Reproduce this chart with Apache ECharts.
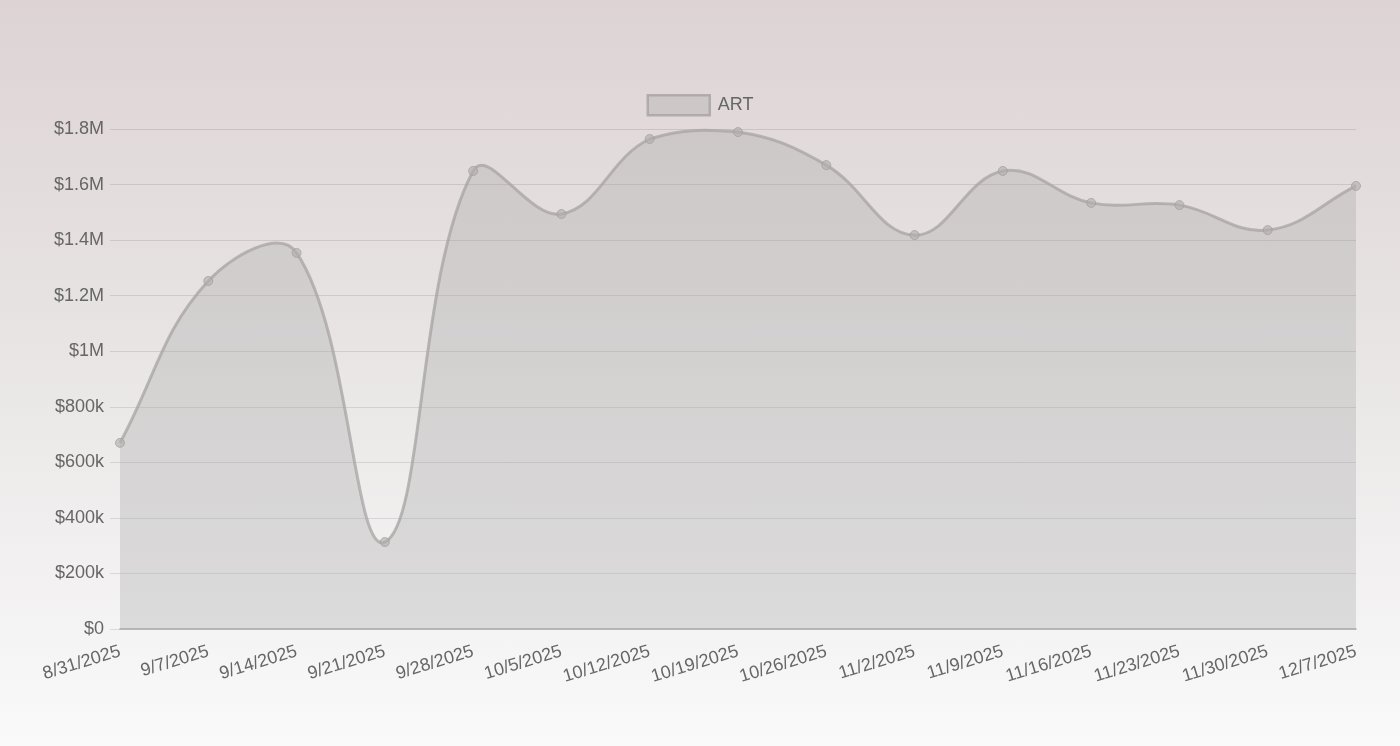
<!DOCTYPE html>
<html>
<head>
<meta charset="utf-8">
<script src="https://cdn.jsdelivr.net/npm/echarts@6/dist/echarts.min.js"></script>
<style>
  html, body { margin: 0; padding: 0; }
  body { width: 1400px; height: 746px; background: linear-gradient(to bottom, #ddd3d4 0%, #e8e4e4 45%, #fafafa 100%); }
  #chart { width: 1400px; height: 746px; }
</style>
</head>
<body>
<div id="chart"></div>
<script>
const categories = ['8/31/2025','9/7/2025','9/14/2025','9/21/2025','9/28/2025','10/5/2025','10/12/2025','10/19/2025','10/26/2025','11/2/2025','11/9/2025','11/16/2025','11/23/2025','11/30/2025','12/7/2025'];
const seriesName = 'ART';
const artValues = [670000, 1253000, 1354000, 313000, 1649000, 1494000, 1764000, 1789000, 1670000, 1418000, 1649000, 1534000, 1526000, 1436000, 1595000];
const yMin = 0, yMax = 1800000, yStep = 200000;

const fillColor = 'rgba(158,158,158,0.29)';
const lineColor = 'rgba(168,163,163,0.75)';

function money(v) {
  if (v === 0) return '$0';
  if (v >= 1000000) return '$' + (v / 1000000).toString() + 'M';
  return '$' + (v / 1000).toString() + 'k';
}

// Cubic spline like a tension-0.4 curve, computed from coordinates given by the axes
function renderCurve(params, api) {
  if (params.dataIndex !== 0) return null;
  const pts = artValues.map(function (v, i) { return api.coord([i, v]); });
  const cs = params.coordSys;
  const t = 0.4;
  const cl = function (x, lo, hi) { return Math.max(lo, Math.min(hi, x)); };
  const cps = pts.map(function (p, i) {
    const prev = i > 0 ? pts[i - 1] : p;
    const next = i < pts.length - 1 ? pts[i + 1] : p;
    const d01 = Math.hypot(p[0] - prev[0], p[1] - prev[1]);
    const d12 = Math.hypot(next[0] - p[0], next[1] - p[1]);
    let s01 = d01 / (d01 + d12), s12 = d12 / (d01 + d12);
    if (isNaN(s01)) s01 = 0;
    if (isNaN(s12)) s12 = 0;
    const fa = t * s01, fb = t * s12;
    return {
      prev: [cl(p[0] - fa * (next[0] - prev[0]), cs.x, cs.x + cs.width), cl(p[1] - fa * (next[1] - prev[1]), cs.y, cs.y + cs.height)],
      next: [cl(p[0] + fb * (next[0] - prev[0]), cs.x, cs.x + cs.width), cl(p[1] + fb * (next[1] - prev[1]), cs.y, cs.y + cs.height)]
    };
  });
  let d = 'M' + pts[0][0] + ' ' + pts[0][1];
  for (let i = 1; i < pts.length; i++) {
    d += ' C' + cps[i - 1].next[0] + ' ' + cps[i - 1].next[1] + ' ' + cps[i].prev[0] + ' ' + cps[i].prev[1] + ' ' + pts[i][0] + ' ' + pts[i][1];
  }
  const base = api.coord([0, yMin])[1];
  const area = d + ' L' + pts[pts.length - 1][0] + ' ' + base + ' L' + pts[0][0] + ' ' + base + ' Z';
  return {
    type: 'group',
    children: [
      { type: 'path', shape: { pathData: area }, style: { fill: fillColor, stroke: null } },
      { type: 'path', shape: { pathData: d }, style: { fill: null, stroke: lineColor, lineWidth: 3 } }
    ]
  };
}

const chart = echarts.init(document.getElementById('chart'), null, { renderer: 'canvas' });
const fontFamily = '"Liberation Sans", Arial, Helvetica, sans-serif';
chart.setOption({
  backgroundColor: 'transparent',
  animation: false,
  textStyle: { fontFamily: fontFamily },
  legend: {
    top: 89,
    left: 'center',
    itemWidth: 62,
    itemHeight: 20,
    icon: 'rect',
    textStyle: { color: '#666', fontSize: 18, fontFamily: fontFamily, padding: [0, 0, 0, 3] },
    data: [{ name: seriesName, itemStyle: { color: fillColor, borderColor: 'rgba(168,163,163,0.8)', borderWidth: 2.5 } }]
  },
  grid: { left: 120, right: 44, top: 129, bottom: 117, containLabel: false },
  xAxis: {
    type: 'category',
    data: categories,
    boundaryGap: false,
    axisLine: { show: true, lineStyle: { color: '#aaa', width: 1.5 } },
    axisTick: { show: false },
    splitLine: { show: false },
    axisLabel: { rotate: 17, color: '#666', fontSize: 18, margin: 22, interval: 0, fontFamily: fontFamily }
  },
  yAxis: {
    type: 'value',
    min: yMin, max: yMax, interval: yStep,
    axisLine: { show: false },
    axisTick: { show: true, length: 10, lineStyle: { color: 'rgba(0,0,0,0.1)' } },
    splitLine: { show: true, lineStyle: { color: 'rgba(0,0,0,0.1)', width: 1 } },
    axisLabel: { color: '#666', fontSize: 18, margin: 16, formatter: money, fontFamily: fontFamily }
  },
  series: [
    {
      name: seriesName,
      type: 'custom',
      renderItem: renderCurve,
      data: [[0, artValues[0]]],
      encode: { x: 0, y: 1 },
      z: 2,
      silent: true
    },
    {
      name: 'points',
      type: 'scatter',
      data: artValues,
      symbol: 'circle',
      symbolSize: 9,
      z: 3,
      itemStyle: { color: 'rgba(178,173,173,0.8)', borderColor: 'rgba(160,155,155,0.85)', borderWidth: 1 }
    }
  ]
});
</script>
</body>
</html>
